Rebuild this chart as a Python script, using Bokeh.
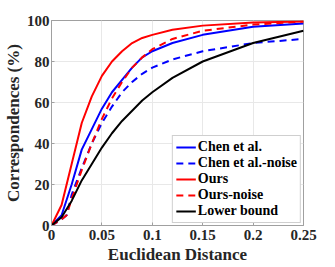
from bokeh.plotting import figure
from bokeh.models import FixedTicker, Range1d, Legend, LegendItem
from bokeh.embed import file_html
from bokeh.resources import INLINE

x = [0, 0.01, 0.02, 0.03, 0.04, 0.05, 0.06, 0.07, 0.08, 0.09, 0.10, 0.12, 0.15, 0.20, 0.25]

x_noise = [0, 0.01, 0.015, 0.02, 0.03, 0.04, 0.05, 0.06, 0.07, 0.08, 0.09, 0.10, 0.12, 0.15, 0.20, 0.25]

chen = [0, 5, 20, 37, 47, 57, 65, 71, 77, 82, 85, 89, 93, 97, 98.5]
chen_noise = [0, 3, 5, 15, 28, 40, 50, 58, 65, 70, 74, 77, 81, 85, 89, 91]
ours = [0, 10, 30, 50, 63, 73, 80, 85, 89, 91.5, 93, 95.5, 97.5, 99, 99.5]
ours_noise = [0, 3, 5, 13, 27, 40, 52, 62, 70, 77, 82, 86, 91, 95, 98, 99.5]
lower = [0, 4, 12, 22, 30, 38, 45, 51, 56, 61, 65, 72, 80, 89, 95]

x_ticks = [0, 0.05, 0.1, 0.15, 0.2, 0.25]
x_tick_labels = ["0", "0.05", "0.1", "0.15", "0.2", "0.25"]
y_ticks = [0, 20, 40, 60, 80, 100]

FONT = "Liberation Serif"

p = figure(width=322, height=266, output_backend="svg", toolbar_location=None,
           x_range=Range1d(0, 0.25), y_range=Range1d(0, 100),
           min_border_left=0, min_border_right=19, min_border_top=20, min_border_bottom=0)
p.background_fill_color = "white"
p.border_fill_color = "white"
p.outline_line_color = "#a0a0a0"
p.outline_line_width = 1

for ax in (p.xaxis[0], p.yaxis[0]):
    ax.axis_line_color = "#a0a0a0"
    ax.major_tick_line_color = "#a0a0a0"
    ax.major_tick_in = 3
    ax.major_tick_out = 0
    ax.minor_tick_line_color = None
    ax.major_label_text_font = FONT
    ax.major_label_text_font_style = "bold"
    ax.major_label_text_font_size = "15px"
    ax.major_label_text_color = "#262626"
    ax.axis_label_text_font = FONT
    ax.axis_label_text_font_style = "bold"
    ax.axis_label_text_font_size = "17px"
    ax.axis_label_text_color = "#262626"

p.xaxis[0].ticker = FixedTicker(ticks=x_ticks)
p.xaxis[0].major_label_overrides = {t: l for t, l in zip(x_ticks, x_tick_labels)}
p.yaxis[0].ticker = FixedTicker(ticks=y_ticks)
p.xaxis[0].axis_label = "Euclidean Distance"
p.yaxis[0].axis_label = "Correspondences (%)"
p.xaxis[0].major_label_standoff = 4
p.yaxis[0].major_label_standoff = 2
p.xaxis[0].axis_label_standoff = 2
p.yaxis[0].axis_label_standoff = 1

p.xgrid.grid_line_color = "#e8e8e8"
p.ygrid.grid_line_color = "#e8e8e8"
p.xgrid.ticker = FixedTicker(ticks=x_ticks)
p.ygrid.ticker = FixedTicker(ticks=y_ticks)

lw = 2
r1 = p.line(x, chen, line_color="#0000ff", line_width=lw)
r2 = p.line(x_noise, chen_noise, line_color="#0000ff", line_width=lw, line_dash="7 5")
r3 = p.line(x, ours, line_color="#ff0000", line_width=lw)
r4 = p.line(x_noise, ours_noise, line_color="#ff0000", line_width=lw, line_dash="7 5")
r5 = p.line(x, lower, line_color="#000000", line_width=lw)

legend = Legend(items=[
    LegendItem(label="Chen et al.", renderers=[r1]),
    LegendItem(label="Chen et al.-noise", renderers=[r2]),
    LegendItem(label="Ours", renderers=[r3]),
    LegendItem(label="Ours-noise", renderers=[r4]),
    LegendItem(label="Lower bound", renderers=[r5]),
], location="bottom_right")
legend.label_text_font = FONT
legend.label_text_font_style = "bold"
legend.label_text_font_size = "14px"
legend.label_text_color = "#000000"
legend.glyph_width = 20
legend.glyph_height = 12
legend.label_height = 12
legend.label_standoff = 2
legend.spacing = -2
legend.padding = 3
legend.margin = 2
legend.border_line_color = "#a0a0a0"
legend.background_fill_alpha = 1
p.add_layout(legend)

open("out.html", "w").write(file_html(p, INLINE))
